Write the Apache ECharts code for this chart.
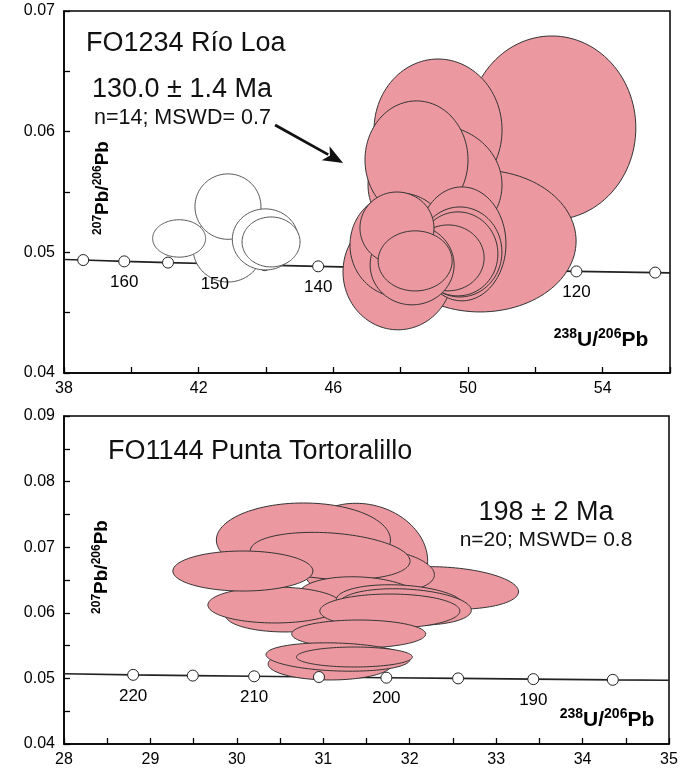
<!DOCTYPE html>
<html>
<head>
<meta charset="utf-8">
<script src="https://cdn.jsdelivr.net/npm/echarts@6.0.0/dist/echarts.min.js"></script>
<style>
  html, body { margin: 0; padding: 0; background: #ffffff; }
  #chart { width: 684px; height: 776px; }
</style>
</head>
<body>
<div id="chart"></div>
<script>
// ---------- FO1234 Río Loa ----------
// Concordia reference points: age (Ma), 238U/206Pb, 207Pb/206Pb
const loaAges  = [165, 160, 155, 150, 145, 140, 135, 130, 125, 120, 115];
const loaConcX = [38.57, 39.79, 41.09, 42.48, 43.96, 45.55, 47.25, 49.09, 51.07, 53.22, 55.56];
const loaConcY = [0.04936, 0.04925, 0.04915, 0.04905, 0.04894, 0.04884, 0.04873, 0.04863, 0.04853, 0.04842, 0.04832];
const loaCurveStart = [38, 0.04940];
const loaCurveEnd   = [56, 0.04830];

// Analyses: [238U/206Pb, 207Pb/206Pb, half-axis x, half-axis y, tilt deg]
const loaExcluded = [
  [42.87, 0.05036, 1.040, 0.00282, 0],
  [41.42, 0.05115, 0.787, 0.00155, 0],
  [42.87, 0.05379, 0.980, 0.00271, 0],
  [43.98, 0.05107, 0.980, 0.00253, 0],
  [44.15, 0.05086, 0.861, 0.00207, 0]
];
const loaAccepted = [
  [52.49, 0.06031, 2.495, 0.00762, 0],
  [49.11, 0.06014, 1.901, 0.00588, 0],
  [50.36, 0.05094, 2.851, 0.00588, 0],
  [49.02, 0.05558, 1.990, 0.00497, 0],
  [48.47, 0.05766, 1.530, 0.00489, 0],
  [47.92, 0.04838, 1.633, 0.00480, 0],
  [47.98, 0.05061, 1.485, 0.00431, 0],
  [49.82, 0.05070, 1.307, 0.00472, 0],
  [49.76, 0.05003, 1.247, 0.00373, 0],
  [49.70, 0.04987, 1.188, 0.00348, 0],
  [49.41, 0.04954, 1.069, 0.00273, 0],
  [48.34, 0.04896, 1.247, 0.00331, 0],
  [47.89, 0.05202, 1.099, 0.00298, 0],
  [48.43, 0.04929, 1.099, 0.00249, 0]
];
// Pointer from the age annotation to the cluster: [x0, y0, x1, y1]
const loaPointer = [[44.27, 0.06056, 46.29, 0.05741]];

// ---------- FO1144 Punta Tortoralillo ----------
const torAges  = [220, 215, 210, 205, 200, 195, 190, 185];
const torConcX = [28.80, 29.49, 30.20, 30.95, 31.73, 32.56, 33.43, 34.35];
const torConcY = [0.05054, 0.05043, 0.05032, 0.05021, 0.05011, 0.05000, 0.04989, 0.04978];
const torCurveStart = [28, 0.05072];
const torCurveEnd   = [35, 0.04972];

const torAccepted = [
  [31.45, 0.06866, 0.764, 0.00793, -12],
  [30.77, 0.07110, 1.007, 0.00564, 0],
  [32.38, 0.06378, 0.880, 0.00320, -3],
  [31.57, 0.06652, 0.718, 0.00335, -5],
  [31.08, 0.06866, 0.926, 0.00351, -4],
  [31.43, 0.06226, 0.718, 0.00320, -3],
  [30.56, 0.05967, 0.694, 0.00259, 0],
  [30.44, 0.06119, 0.775, 0.00274, 0],
  [30.07, 0.06637, 0.810, 0.00305, 0],
  [31.89, 0.06149, 0.741, 0.00274, -3],
  [31.95, 0.06088, 0.764, 0.00274, -3],
  [31.77, 0.06027, 0.810, 0.00259, 0],
  [31.41, 0.05677, 0.775, 0.00213, 0],
  [31.08, 0.05220, 0.718, 0.00244, 0],
  [31.17, 0.05326, 0.833, 0.00213, -2],
  [31.36, 0.05326, 0.671, 0.00152, 0]
];

// ---------- drawing ----------
const FONT = 'Arial, "Liberation Sans", Helvetica, sans-serif';
const PINK = '#ec98a0';

function ellipseRenderer(fill, stroke, lw) {
  return function (params, api) {
    const c = api.coord([api.value(0), api.value(1)]);
    const s = api.size([api.value(2), api.value(3)]);
    const a = api.value(4) * Math.PI / 180;
    const pts = [];
    const n = 120;
    for (let i = 0; i < n; i++) {
      const t = i / n * Math.PI * 2;
      const ex = s[0] * Math.cos(t), ey = s[1] * Math.sin(t);
      pts.push([c[0] + ex * Math.cos(a) + ey * Math.sin(a),
                c[1] - ex * Math.sin(a) + ey * Math.cos(a)]);
    }
    return { type: 'polygon', shape: { points: pts },
             style: { fill: fill, stroke: stroke, lineWidth: lw } };
  };
}

function pointerRenderer(params, api) {
  const p0 = api.coord([api.value(0), api.value(1)]);
  const p1 = api.coord([api.value(2), api.value(3)]);
  const dx = p1[0] - p0[0], dy = p1[1] - p0[1];
  const len = Math.sqrt(dx * dx + dy * dy);
  const ux = dx / len, uy = dy / len;
  const headL = 20, headW = 8;
  const bx = p1[0] - ux * headL, by = p1[1] - uy * headL;
  return {
    type: 'group',
    children: [
      { type: 'line', shape: { x1: p0[0], y1: p0[1], x2: bx + ux * 3, y2: by + uy * 3 },
        style: { stroke: '#111', lineWidth: 2.8 } },
      { type: 'polygon',
        shape: { points: [[p1[0], p1[1]], [bx - uy * headW, by + ux * headW], [bx + ux * 5, by + uy * 5], [bx + uy * headW, by - ux * headW]] },
        style: { fill: '#111' } }
    ]
  };
}

function curveData(start, xs, ys, end) {
  return [start].concat(xs.map((x, i) => [x, ys[i]])).concat([end]);
}
function markerData(xs, ys, ages) {
  return xs.map((x, i) => [x, ys[i], ages[i]]);
}

function yTickLabel(v) {
  const k = Math.round(v * 1000);
  return k % 10 === 0 ? (k / 1000).toFixed(2) : '';
}

const axisCommon = {
  axisLine: { lineStyle: { color: '#000', width: 1.5 } },
  axisTick: { inside: true, length: 6, lineStyle: { color: '#000', width: 1.3 } },
  splitLine: { show: false },
  axisLabel: { color: '#000', fontFamily: FONT, fontSize: 16 }
};

const ageLabel = {
  show: true, position: 'bottom', distance: 7, color: '#000', opacity: 1,
  fontFamily: FONT, fontSize: 17, textBorderWidth: 0,
  formatter: p => (p.value[2] % 10 === 0 ? String(p.value[2]) : '')
};

// Concordia curve, age markers and age labels (labels as their own layer)
function concordiaSeries(idx, start, xs, ys, end, ages, markerZ, labelZ) {
  return [
    { type: 'line', xAxisIndex: idx, yAxisIndex: idx, data: curveData(start, xs, ys, end),
      symbol: 'none', lineStyle: { color: '#222', width: 1.6 }, z: 1, silent: true },
    { type: 'scatter', xAxisIndex: idx, yAxisIndex: idx, data: markerData(xs, ys, ages),
      symbol: 'circle', symbolSize: 11, z: markerZ,
      itemStyle: { color: '#fff', borderColor: '#222', borderWidth: 1, opacity: 1 } },
    { type: 'scatter', xAxisIndex: idx, yAxisIndex: idx, data: markerData(xs, ys, ages),
      symbol: 'circle', symbolSize: 11, z: labelZ, silent: true,
      itemStyle: { color: 'rgba(0,0,0,0)', borderWidth: 0, opacity: 1 }, label: ageLabel }
  ];
}

function ellipseSeries(idx, data, fill, stroke, lw, z) {
  return { type: 'custom', xAxisIndex: idx, yAxisIndex: idx, data: data,
           renderItem: ellipseRenderer(fill, stroke, lw), z: z, clip: true,
           encode: { x: 0, y: 1 } };
}

function richLabel(big, small) {
  return {
    b: { fontFamily: FONT, fontWeight: 'bold', fontSize: big, lineHeight: big + 2, verticalAlign: 'bottom', fill: '#000' },
    s: { fontFamily: FONT, fontWeight: 'bold', fontSize: small, lineHeight: small + 1, verticalAlign: 'top', fill: '#000' }
  };
}

const chart = echarts.init(document.getElementById('chart'), null, { renderer: 'canvas' });

const option = {
  backgroundColor: '#ffffff',
  animation: false,
  grid: [
    { left: 64, top: 11, width: 606, height: 362, show: true, borderColor: '#000', borderWidth: 1.5, backgroundColor: 'transparent' },
    { left: 64, top: 416, width: 605, height: 328, show: true, borderColor: '#000', borderWidth: 1.5, backgroundColor: 'transparent' }
  ],
  xAxis: [
    Object.assign({}, axisCommon, { gridIndex: 0, type: 'value', min: 38, max: 56, interval: 2,
      axisLabel: Object.assign({}, axisCommon.axisLabel, { margin: 8,
        formatter: v => ((Math.round(v) - 38) % 4 === 0 ? String(Math.round(v)) : '') }) }),
    Object.assign({}, axisCommon, { gridIndex: 1, type: 'value', min: 28, max: 35, interval: 0.5,
      axisLabel: Object.assign({}, axisCommon.axisLabel, { margin: 8,
        formatter: v => (Math.abs(v - Math.round(v)) < 1e-6 ? String(Math.round(v)) : '') }) })
  ],
  yAxis: [
    Object.assign({}, axisCommon, { gridIndex: 0, type: 'value', min: 0.04, max: 0.07, interval: 0.005,
      axisLabel: Object.assign({}, axisCommon.axisLabel, { margin: 9, formatter: yTickLabel }) }),
    Object.assign({}, axisCommon, { gridIndex: 1, type: 'value', min: 0.04, max: 0.09, interval: 0.005,
      axisLabel: Object.assign({}, axisCommon.axisLabel, { margin: 9, formatter: yTickLabel }) })
  ],
  series: [].concat(
    concordiaSeries(0, loaCurveStart, loaConcX, loaConcY, loaCurveEnd, loaAges, 2, 4),
    [ellipseSeries(0, loaExcluded, '#ffffff', '#555', 1, 3)],
    [ellipseSeries(0, loaAccepted, PINK, '#333', 1, 5)],
    [{ type: 'custom', xAxisIndex: 0, yAxisIndex: 0, data: loaPointer, renderItem: pointerRenderer, z: 6, encode: { x: [0, 2], y: [1, 3] } }],
    concordiaSeries(1, torCurveStart, torConcX, torConcY, torCurveEnd, torAges, 6, 6),
    [ellipseSeries(1, torAccepted, PINK, '#333', 1, 5)]
  ),
  graphic: [
    { type: 'text', x: 86, y: 44, z: 10, style: { text: 'FO1234 Río Loa', font: '27px ' + FONT, fill: '#111', textAlign: 'left', textVerticalAlign: 'middle' } },
    { type: 'text', x: 92, y: 90, z: 10, style: { text: '130.0 ± 1.4 Ma', font: '27px ' + FONT, fill: '#111', textAlign: 'left', textVerticalAlign: 'middle' } },
    { type: 'text', x: 94, y: 118, z: 10, style: { text: 'n=14; MSWD= 0.7', font: '21.5px ' + FONT, fill: '#111', textAlign: 'left', textVerticalAlign: 'middle' } },
    { type: 'text', x: 108, y: 452, z: 10, style: { text: 'FO1144 Punta Tortoralillo', font: '27px ' + FONT, fill: '#111', textAlign: 'left', textVerticalAlign: 'middle' } },
    { type: 'text', x: 546, y: 513, z: 10, style: { text: '198 ± 2 Ma', font: '27px ' + FONT, fill: '#111', textAlign: 'center', textVerticalAlign: 'middle' } },
    { type: 'text', x: 546, y: 540, z: 10, style: { text: 'n=20; MSWD= 0.8', font: '21px ' + FONT, fill: '#111', textAlign: 'center', textVerticalAlign: 'middle' } },
    { type: 'text', x: 102, y: 188, rotation: Math.PI / 2, z: 10,
      style: { text: '{s|207}{b|Pb/}{s|206}{b|Pb}', rich: richLabel(19, 12), textAlign: 'center', textVerticalAlign: 'middle' } },
    { type: 'text', x: 101, y: 567, rotation: Math.PI / 2, z: 10,
      style: { text: '{s|207}{b|Pb/}{s|206}{b|Pb}', rich: richLabel(19, 12), textAlign: 'center', textVerticalAlign: 'middle' } },
    { type: 'text', x: 601, y: 339, z: 10,
      style: { text: '{s|238}{b|U/}{s|206}{b|Pb}', rich: richLabel(21, 14), textAlign: 'center', textVerticalAlign: 'middle' } },
    { type: 'text', x: 607, y: 719, z: 10,
      style: { text: '{s|238}{b|U/}{s|206}{b|Pb}', rich: richLabel(21, 14), textAlign: 'center', textVerticalAlign: 'middle' } }
  ]
};

chart.setOption(option);
</script>
</body>
</html>
